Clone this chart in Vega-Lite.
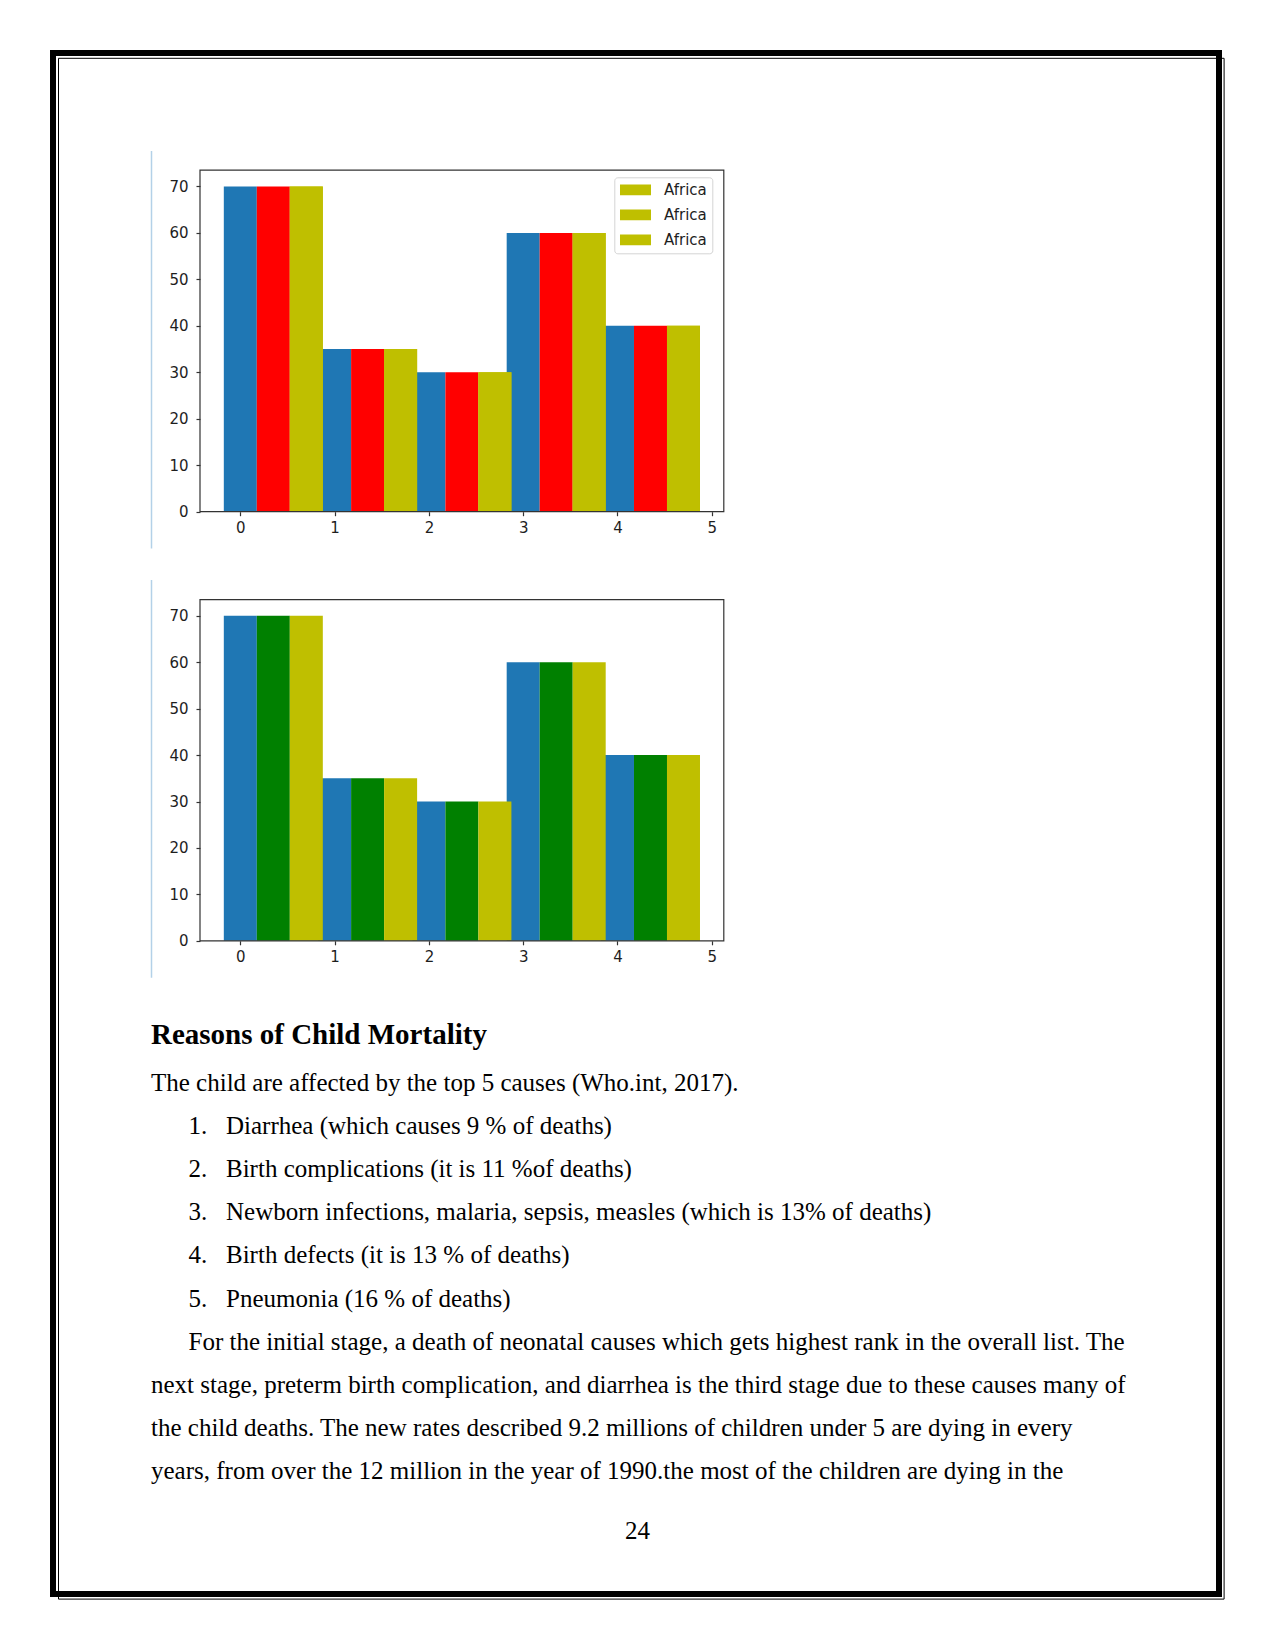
{
  "$schema": "https://vega.github.io/schema/vega-lite/v6.json",
  "width": 1166,
  "height": 1541,
  "autosize": {"type": "none"},
  "padding": {"left": 53, "top": 53, "right": 56, "bottom": 56},
  "background": "white",
  "config": {
    "view": {"stroke": "black", "strokeWidth": 6},
    "axis": {"grid": false, "title": null, "labelFlush": false, "labelOverlap": false}
  },
  "datasets": {
    "chart1": [
      {"i": 0, "s": "b", "v": 70}, {"i": 1, "s": "b", "v": 35}, {"i": 2, "s": "b", "v": 30}, {"i": 3, "s": "b", "v": 60}, {"i": 4, "s": "b", "v": 40},
      {"i": 0, "s": "r", "v": 70}, {"i": 1, "s": "r", "v": 35}, {"i": 2, "s": "r", "v": 30}, {"i": 3, "s": "r", "v": 60}, {"i": 4, "s": "r", "v": 40},
      {"i": 0, "s": "y", "v": 70}, {"i": 1, "s": "y", "v": 35}, {"i": 2, "s": "y", "v": 30}, {"i": 3, "s": "y", "v": 60}, {"i": 4, "s": "y", "v": 40}
    ],
    "chart2": [
      {"i": 0, "s": "b", "v": 70}, {"i": 1, "s": "b", "v": 35}, {"i": 2, "s": "b", "v": 30}, {"i": 3, "s": "b", "v": 60}, {"i": 4, "s": "b", "v": 40},
      {"i": 0, "s": "g", "v": 70}, {"i": 1, "s": "g", "v": 35}, {"i": 2, "s": "g", "v": 30}, {"i": 3, "s": "g", "v": 60}, {"i": 4, "s": "g", "v": 40},
      {"i": 0, "s": "y", "v": 70}, {"i": 1, "s": "y", "v": 35}, {"i": 2, "s": "y", "v": 30}, {"i": 3, "s": "y", "v": 60}, {"i": 4, "s": "y", "v": 40}
    ],
    "lines": [
      {"kind": "heading", "line": 0, "col": "margin", "text": "Reasons of Child Mortality"},
      {"kind": "body", "line": 1, "col": "margin", "text": "The child are affected by the top 5 causes (Who.int, 2017)."},
      {"kind": "body", "line": 2, "col": "indent", "text": "1."},
      {"kind": "body", "line": 2, "col": "item", "text": "Diarrhea (which causes 9 % of deaths)"},
      {"kind": "body", "line": 3, "col": "indent", "text": "2."},
      {"kind": "body", "line": 3, "col": "item", "text": "Birth complications (it is 11 %of deaths)"},
      {"kind": "body", "line": 4, "col": "indent", "text": "3."},
      {"kind": "body", "line": 4, "col": "item", "text": "Newborn infections, malaria, sepsis, measles (which is 13% of deaths)"},
      {"kind": "body", "line": 5, "col": "indent", "text": "4."},
      {"kind": "body", "line": 5, "col": "item", "text": "Birth defects (it is 13 % of deaths)"},
      {"kind": "body", "line": 6, "col": "indent", "text": "5."},
      {"kind": "body", "line": 6, "col": "item", "text": "Pneumonia (16 % of deaths)"},
      {"kind": "body", "line": 7, "col": "indent", "text": "For the initial stage, a death of neonatal causes which gets highest rank in the overall list. The"},
      {"kind": "body", "line": 8, "col": "margin", "text": "next stage, preterm birth complication, and diarrhea is the third stage due to these causes many of"},
      {"kind": "body", "line": 9, "col": "margin", "text": "the child deaths. The new rates described 9.2 millions of children under 5 are dying in every"},
      {"kind": "body", "line": 10, "col": "margin", "text": "years, from over the 12 million in the year of 1990.the most of the children are dying in the"},
      {"kind": "page", "line": 11, "col": "center", "text": "24"}
    ]
  },
  "layer": [
    {
      "data": {"name": "chart1"},
      "transform": [
        {"calculate": "indexof(['b','r','y'], datum.s)", "as": "k"},
        {"calculate": "datum.i - 0.175 + 0.35 * datum.k", "as": "x0"},
        {"calculate": "datum.x0 + 0.35", "as": "x1"}
      ],
      "mark": {"type": "bar"},
      "encoding": {
        "x": {"field": "x0", "type": "quantitative",
          "scale": {"domain": [-0.4275, 5.1275], "range": [147, 670.8], "nice": false, "zero": false},
          "axis": {"orient": "bottom", "offset": -1082.3, "values": [0, 1, 2, 3, 4, 5], "format": "d", "domain": false,
            "tickSize": 4, "tickColor": "#333333", "tickWidth": 1.2, "labelPadding": 5,
            "labelFont": "DejaVu Sans", "labelFontSize": 15, "labelColor": "#1e1e1e"}},
        "x2": {"field": "x1"},
        "y": {"field": "v", "type": "quantitative",
          "scale": {"domain": [0, 73.5], "range": [458.7, 117.2], "nice": false, "zero": false},
          "axis": {"orient": "left", "offset": -147, "values": [0, 10, 20, 30, 40, 50, 60, 70], "format": "d", "domain": false,
            "tickSize": 4, "tickColor": "#333333", "tickWidth": 1.2, "labelPadding": 8,
            "labelFont": "DejaVu Sans", "labelFontSize": 15, "labelColor": "#1e1e1e"}},
        "y2": {"datum": 0},
        "color": {"field": "s", "type": "nominal",
          "scale": {"domain": ["b", "r", "y"], "range": ["#1f77b4", "#ff0000", "#bfbf00"]}, "legend": null}
      }
    },
    {
      "data": {"name": "chart1"},
      "transform": [
        {"filter": "datum.s == 'y'"},
        {"calculate": "datum.i - 0.175 + 0.35 * 2", "as": "x0"},
        {"calculate": "datum.x0 + 0.35", "as": "x1"}
      ],
      "mark": {"type": "bar"},
      "encoding": {
        "x": {"field": "x0", "type": "quantitative",
          "scale": {"domain": [-0.4275, 5.1275], "range": [147, 670.8], "nice": false, "zero": false}, "axis": null},
        "x2": {"field": "x1"},
        "y": {"field": "v", "type": "quantitative",
          "scale": {"domain": [0, 73.5], "range": [458.7, 117.2], "nice": false, "zero": false}, "axis": null},
        "y2": {"datum": 0},
        "fill": {"field": "s", "type": "nominal",
          "scale": {"domain": ["b", "r", "y"], "range": ["#bfbf00", "#bfbf00", "#bfbf00"]},
          "legend": {"orient": "none", "legendX": 561.3, "legendY": 124.3, "title": null,
            "labelExpr": "'Africa'", "padding": 5, "strokeColor": "#d4d4d4", "cornerRadius": 3,
            "fillColor": "rgba(255,255,255,0.8)",
            "symbolType": "M-2.067,-0.713H2.067V0.713H-2.067Z", "symbolSize": 225, "symbolStrokeWidth": 0,
            "symbolOffset": 8.7,
            "labelFont": "DejaVu Sans", "labelFontSize": 15, "labelColor": "#1e1e1e", "labelOffset": 21,
            "rowPadding": 9}}
      }
    },
    {
      "data": {"values": [{}]},
      "mark": {"type": "rect", "filled": false, "color": "#333333", "strokeWidth": 1.2},
      "encoding": {
        "x": {"datum": -0.4275, "type": "quantitative",
          "scale": {"domain": [-0.4275, 5.1275], "range": [147, 670.8], "nice": false, "zero": false}, "axis": null},
        "x2": {"datum": 5.1275},
        "y": {"datum": 0, "type": "quantitative",
          "scale": {"domain": [0, 73.5], "range": [458.7, 117.2], "nice": false, "zero": false}, "axis": null},
        "y2": {"datum": 73.5}
      }
    },
    {
      "data": {"name": "chart2"},
      "transform": [
        {"calculate": "indexof(['b','g','y'], datum.s)", "as": "k"},
        {"calculate": "datum.i - 0.175 + 0.35 * datum.k", "as": "x0"},
        {"calculate": "datum.x0 + 0.35", "as": "x1"}
      ],
      "mark": {"type": "bar"},
      "encoding": {
        "x": {"field": "x0", "type": "quantitative",
          "scale": {"domain": [-0.4275, 5.1275], "range": [147, 670.8], "nice": false, "zero": false},
          "axis": {"orient": "bottom", "offset": -653.2, "values": [0, 1, 2, 3, 4, 5], "format": "d", "domain": false,
            "tickSize": 4, "tickColor": "#333333", "tickWidth": 1.2, "labelPadding": 5,
            "labelFont": "DejaVu Sans", "labelFontSize": 15, "labelColor": "#1e1e1e"}},
        "x2": {"field": "x1"},
        "y": {"field": "v", "type": "quantitative",
          "scale": {"domain": [0, 73.5], "range": [887.8, 546.6], "nice": false, "zero": false},
          "axis": {"orient": "left", "offset": -147, "values": [0, 10, 20, 30, 40, 50, 60, 70], "format": "d", "domain": false,
            "tickSize": 4, "tickColor": "#333333", "tickWidth": 1.2, "labelPadding": 8,
            "labelFont": "DejaVu Sans", "labelFontSize": 15, "labelColor": "#1e1e1e"}},
        "y2": {"datum": 0},
        "color": {"field": "s", "type": "nominal",
          "scale": {"domain": ["b", "g", "y"], "range": ["#1f77b4", "#008000", "#bfbf00"]}, "legend": null}
      }
    },
    {
      "data": {"values": [{}]},
      "mark": {"type": "rect", "filled": false, "color": "#333333", "strokeWidth": 1.2},
      "encoding": {
        "x": {"datum": -0.4275, "type": "quantitative",
          "scale": {"domain": [-0.4275, 5.1275], "range": [147, 670.8], "nice": false, "zero": false}, "axis": null},
        "x2": {"datum": 5.1275},
        "y": {"datum": 0, "type": "quantitative",
          "scale": {"domain": [0, 73.5], "range": [887.8, 546.6], "nice": false, "zero": false}, "axis": null},
        "y2": {"datum": 73.5}
      }
    },
    {
      "data": {"name": "lines"},
      "transform": [{"filter": "datum.kind == 'body'"}],
      "mark": {"type": "text", "align": "left", "baseline": "alphabetic", "font": "Liberation Serif", "fontSize": 25, "color": "black"},
      "encoding": {
        "x": {"field": "col", "type": "nominal", "scale": {"type": "point", "domain": ["margin", "indent", "item"], "range": [98, 173], "padding": 0}, "axis": null},
        "y": {"field": "line", "type": "quantitative", "scale": {"domain": [1, 10], "range": [1038, 1426.1], "nice": false, "zero": false}, "axis": null},
        "text": {"field": "text", "type": "nominal"}
      }
    },
    {
      "data": {"name": "lines"},
      "transform": [{"filter": "datum.kind == 'heading'"}],
      "mark": {"type": "text", "align": "left", "baseline": "alphabetic", "font": "Liberation Serif", "fontSize": 29, "fontWeight": "bold", "color": "black", "dy": -4},
      "encoding": {
        "x": {"field": "col", "type": "nominal", "scale": {"type": "point", "domain": ["margin", "indent", "item"], "range": [98, 173], "padding": 0}, "axis": null},
        "y": {"field": "line", "type": "quantitative", "scale": {"domain": [1, 10], "range": [1038, 1426.1], "nice": false, "zero": false}, "axis": null},
        "text": {"field": "text", "type": "nominal"}
      }
    },
    {
      "data": {"name": "lines"},
      "transform": [{"filter": "datum.kind == 'page'"}],
      "mark": {"type": "text", "align": "center", "baseline": "alphabetic", "font": "Liberation Serif", "fontSize": 25, "color": "black", "dy": 17},
      "encoding": {
        "x": {"field": "col", "type": "nominal", "scale": {"type": "point", "domain": ["center"], "range": [584.5, 584.5], "padding": 0}, "axis": null},
        "y": {"field": "line", "type": "quantitative", "scale": {"domain": [1, 10], "range": [1038, 1426.1], "nice": false, "zero": false}, "axis": null},
        "text": {"field": "text", "type": "nominal"}
      }
    },
    {
      "data": {"values": [{}]},
      "mark": {"type": "text"},
      "encoding": {
        "y": {"datum": 0, "type": "quantitative", "scale": {"domain": [0, 1], "range": [97.4, 495]},
          "axis": {"orient": "left", "offset": -98, "domain": true, "domainColor": "#b3d1e8", "domainWidth": 1.5, "ticks": false, "labels": false}},
        "text": {"value": ""}
      }
    },
    {
      "data": {"values": [{}]},
      "mark": {"type": "text"},
      "encoding": {
        "y": {"datum": 0, "type": "quantitative", "scale": {"domain": [0, 1], "range": [526.6, 924.3]},
          "axis": {"orient": "left", "offset": -98, "domain": true, "domainColor": "#b3d1e8", "domainWidth": 1.5, "ticks": false, "labels": false}},
        "text": {"value": ""}
      }
    },
    {
      "data": {"values": [{}]},
      "mark": {"type": "text"},
      "encoding": {
        "x": {"datum": 0, "type": "quantitative", "scale": {"domain": [0, 1], "range": [5, 1170.6]},
          "axis": {"orient": "top", "offset": -4.8, "domain": true, "domainColor": "black", "domainWidth": 1, "ticks": false, "labels": false}},
        "y": {"datum": 0, "type": "quantitative", "scale": {"domain": [0, 1], "range": [4.8, 1545.6]},
          "axis": {"orient": "left", "offset": -5, "domain": true, "domainColor": "black", "domainWidth": 1, "ticks": false, "labels": false}},
        "text": {"value": ""}
      }
    },
    {
      "data": {"values": [{}]},
      "mark": {"type": "text"},
      "encoding": {
        "x": {"datum": 0, "type": "quantitative", "scale": {"domain": [0, 1], "range": [5, 1170.6]},
          "axis": {"orient": "bottom", "offset": 4.6, "domain": true, "domainColor": "black", "domainWidth": 1, "ticks": false, "labels": false}},
        "y": {"datum": 0, "type": "quantitative", "scale": {"domain": [0, 1], "range": [4.8, 1545.6]},
          "axis": {"orient": "right", "offset": 4.6, "domain": true, "domainColor": "black", "domainWidth": 1, "ticks": false, "labels": false}},
        "text": {"value": ""}
      }
    }
  ],
  "resolve": {
    "scale": {"x": "independent", "y": "independent", "color": "independent", "fill": "independent"},
    "axis": {"x": "independent", "y": "independent"}
  }
}
